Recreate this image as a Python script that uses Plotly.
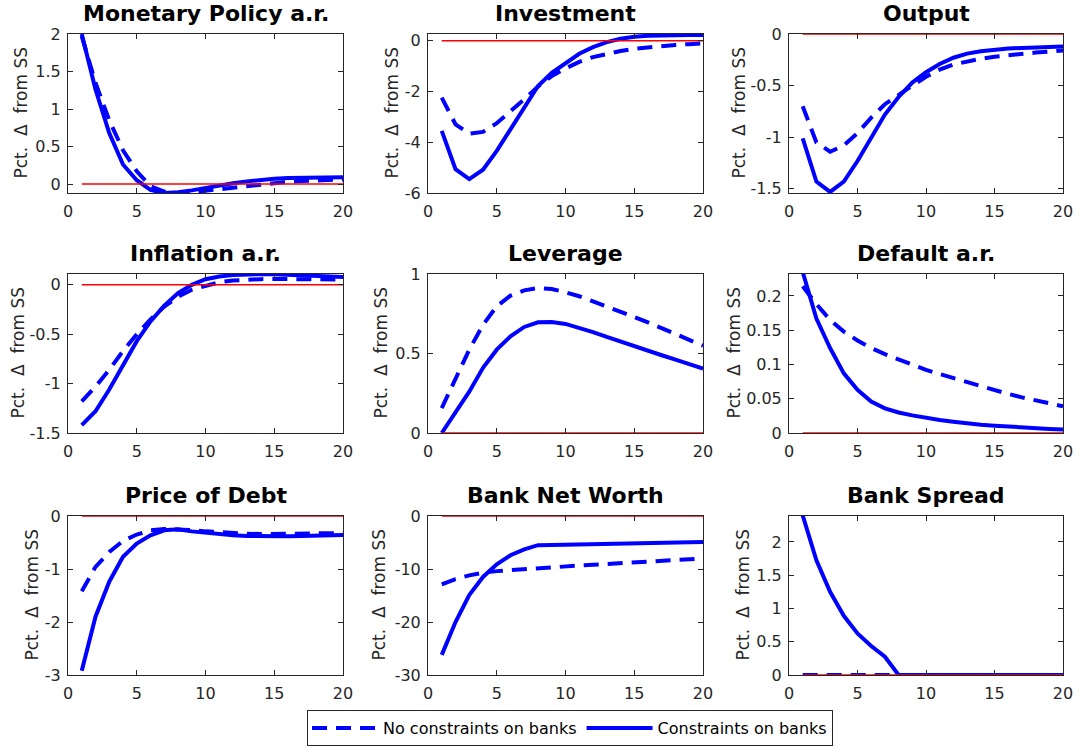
import plotly.graph_objects as go

# ---------------- data ----------------
periods = [1, 2, 3, 4, 5, 6, 7, 8, 9, 10, 11, 12, 13, 14, 15, 16, 17, 18, 19, 20]
ss_x = [1, 20]
ss_y = [0, 0]

titles = ["Monetary Policy a.r.", "Investment", "Output",
          "Inflation a.r.", "Leverage", "Default a.r.",
          "Price of Debt", "Bank Net Worth", "Bank Spread"]

series_names = ["No constraints on banks", "Constraints on banks"]
ylabel = "Pct.  \u0394  from SS"

mp_nc = [1.97, 1.35, 0.85, 0.45, 0.17, -0.03, -0.10, -0.12, -0.11, -0.09, -0.06, -0.04, -0.02, 0.00, 0.02, 0.03, 0.04, 0.05, 0.055, 0.06]
mp_c = [2.0, 1.26, 0.68, 0.26, 0.05, -0.08, -0.12, -0.11, -0.085, -0.05, -0.02, 0.01, 0.035, 0.055, 0.07, 0.08, 0.085, 0.09, 0.09, 0.09]

inv_nc = [-2.24, -3.29, -3.66, -3.59, -3.25, -2.8, -2.3, -1.8, -1.39, -1.09, -0.83, -0.64, -0.5, -0.4, -0.31, -0.25, -0.2, -0.16, -0.13, -0.1]
inv_c = [-3.55, -5.06, -5.45, -5.08, -4.34, -3.49, -2.57, -1.78, -1.26, -0.87, -0.51, -0.25, -0.05, 0.08, 0.16, 0.2, 0.22, 0.23, 0.23, 0.23]

out_nc = [-0.70, -1.05, -1.14, -1.08, -0.96, -0.81, -0.68, -0.585, -0.5, -0.415, -0.345, -0.295, -0.265, -0.24, -0.22, -0.205, -0.19, -0.18, -0.17, -0.16]
out_c = [-1.01, -1.43, -1.53, -1.43, -1.23, -1.0, -0.78, -0.61, -0.47, -0.37, -0.29, -0.23, -0.19, -0.167, -0.15, -0.14, -0.135, -0.13, -0.125, -0.12]

infl_nc = [-1.18, -1.03, -0.86, -0.67, -0.5, -0.35, -0.22, -0.12, -0.05, -0.007, 0.027, 0.044, 0.054, 0.058, 0.06, 0.06, 0.06, 0.058, 0.056, 0.054]
infl_c = [-1.42, -1.28, -1.06, -0.81, -0.57, -0.37, -0.21, -0.084, 0.0, 0.057, 0.084, 0.1, 0.108, 0.11, 0.107, 0.1, 0.095, 0.09, 0.085, 0.08]

lev_nc = [0.157, 0.335, 0.524, 0.68, 0.797, 0.864, 0.897, 0.912, 0.906, 0.885, 0.86, 0.828, 0.797, 0.761, 0.73, 0.696, 0.66, 0.623, 0.587, 0.549]
lev_c = [0.0, 0.126, 0.26, 0.41, 0.524, 0.608, 0.667, 0.696, 0.698, 0.686, 0.662, 0.635, 0.604, 0.574, 0.545, 0.517, 0.489, 0.461, 0.433, 0.405]

def_nc = [0.214, 0.188, 0.165, 0.148, 0.135, 0.124, 0.115, 0.107, 0.099, 0.092, 0.086, 0.08, 0.075, 0.068, 0.062, 0.057, 0.052, 0.048, 0.043, 0.039]
def_c = [0.235, 0.167, 0.124, 0.087, 0.063, 0.046, 0.036, 0.030, 0.0257, 0.022, 0.019, 0.0165, 0.014, 0.012, 0.0107, 0.0092, 0.0078, 0.0068, 0.0058, 0.005]

pod_nc = [-1.42, -0.96, -0.68, -0.47, -0.35, -0.27, -0.245, -0.245, -0.264, -0.29, -0.31, -0.32, -0.333, -0.34, -0.34, -0.34, -0.335, -0.33, -0.325, -0.32]
pod_c = [-2.92, -1.9, -1.24, -0.77, -0.52, -0.364, -0.27, -0.25, -0.29, -0.32, -0.345, -0.364, -0.377, -0.383, -0.383, -0.383, -0.377, -0.37, -0.364, -0.358]

bnw_nc = [-12.9, -11.9, -11.2, -10.7, -10.4, -10.2, -10.0, -9.8, -9.65, -9.5, -9.35, -9.2, -9.05, -8.9, -8.75, -8.6, -8.45, -8.3, -8.15, -8.0]
bnw_c = [-26.2, -20.0, -14.9, -11.5, -9.1, -7.4, -6.3, -5.5, -5.45, -5.4, -5.35, -5.3, -5.25, -5.2, -5.15, -5.1, -5.05, -5.0, -4.95, -4.9]

spr_nc = [0, 0, 0, 0, 0, 0, 0, 0, 0, 0, 0, 0, 0, 0, 0, 0, 0, 0, 0, 0]
spr_c = [2.4, 1.725, 1.25, 0.89, 0.625, 0.435, 0.275, 0.0, 0, 0, 0, 0, 0, 0, 0, 0, 0, 0, 0, 0]

x_ticks = [0, 5, 10, 15, 20]
y_ranges = [[-0.12, 2.0], [-6, 0.27], [-1.54, 0],
            [-1.5, 0.11], [0, 1], [0, 0.232],
            [-3, 0], [-30, 0], [0, 2.39]]
y_tickvals = [[0, 0.5, 1, 1.5, 2], [-6, -4, -2, 0], [-1.5, -1, -0.5, 0],
              [-1.5, -1, -0.5, 0], [0, 0.5, 1], [0, 0.05, 0.1, 0.15, 0.2],
              [-3, -2, -1, 0], [-30, -20, -10, 0], [0, 0.5, 1, 1.5, 2]]
y_ticktext = [["0", "0.5", "1", "1.5", "2"], ["-6", "-4", "-2", "0"], ["-1.5", "-1", "-0.5", "0"],
              ["-1.5", "-1", "-0.5", "0"], ["0", "0.5", "1"], ["0", "0.05", "0.1", "0.15", "0.2"],
              ["-3", "-2", "-1", "0"], ["-30", "-20", "-10", "0"], ["0", "0.5", "1", "1.5", "2"]]

no_constraints = [mp_nc, inv_nc, out_nc, infl_nc, lev_nc, def_nc, pod_nc, bnw_nc, spr_nc]
constraints = [mp_c, inv_c, out_c, infl_c, lev_c, def_c, pod_c, bnw_c, spr_c]

# ---------------- layout geometry (screen pixels) ----------------
W, H = 1081, 746
col_px = [(68, 343), (428, 703), (789, 1063)]
row_px = [(34, 193), (274, 433), (516, 675)]
ylab_px = [[20, 391, 738], [17, 380, 733], [31, 378, 742]]


def px_x(v):
    return v / W


def px_y(v):
    return 1 - v / H


FONT = "DejaVu Sans"
AX = "#262626"
BLUE = "#0000FF"
RED = "#FF0000"

fig = go.Figure()
annotations = []
layout_axes = {}

for i in range(9):
    r, c = divmod(i, 3)
    n = i + 1
    xa = "x" if n == 1 else f"x{n}"
    ya = "y" if n == 1 else f"y{n}"
    xkey = "xaxis" if n == 1 else f"xaxis{n}"
    ykey = "yaxis" if n == 1 else f"yaxis{n}"
    x0, x1 = col_px[c]
    y0, y1 = row_px[r]
    dom_x = [px_x(x0), px_x(x1)]
    dom_y = [px_y(y1), px_y(y0)]

    fig.add_trace(go.Scatter(x=periods, y=no_constraints[i], mode="lines",
                             name=series_names[0], legendgroup="nc", showlegend=(i == 0),
                             line=dict(color=BLUE, width=4, dash="15px,9px"),
                             xaxis=xa, yaxis=ya, hoverinfo="skip"))
    fig.add_trace(go.Scatter(x=periods, y=constraints[i], mode="lines",
                             name=series_names[1], legendgroup="c", showlegend=(i == 0),
                             line=dict(color=BLUE, width=4),
                             xaxis=xa, yaxis=ya, hoverinfo="skip"))
    fig.add_trace(go.Scatter(x=ss_x, y=ss_y, mode="lines", showlegend=False,
                             line=dict(color=RED, width=1.5),
                             xaxis=xa, yaxis=ya, hoverinfo="skip"))

    common = dict(showline=True, linecolor=AX, linewidth=1, mirror="ticks",
                  ticks="inside", ticklen=5, tickcolor=AX, tickwidth=1,
                  showgrid=False, zeroline=False, automargin=False,
                  tickfont=dict(family=FONT, size=16, color=AX))
    layout_axes[xkey] = dict(domain=dom_x, range=[0, 20], anchor=ya,
                             tickvals=x_ticks, ticklabelstandoff=4, **common)
    layout_axes[ykey] = dict(domain=dom_y, range=y_ranges[i], anchor=xa,
                             tickvals=y_tickvals[i], ticktext=y_ticktext[i],
                             ticklabelstandoff=3, **common)

    annotations.append(dict(text="<b>" + titles[i] + "</b>", xref="paper", yref="paper",
                            x=px_x((x0 + x1) / 2), y=px_y(y0 - 6),
                            xanchor="center", yanchor="bottom", showarrow=False,
                            font=dict(family=FONT, size=22, color="black")))
    annotations.append(dict(text=ylabel, xref="paper", yref="paper",
                            x=px_x(ylab_px[r][c]), y=px_y((y0 + y1) / 2),
                            xanchor="center", yanchor="middle", textangle=-90,
                            showarrow=False,
                            font=dict(family=FONT, size=17, color=AX)))

fig.update_layout(
    template="none",
    width=W, height=H,
    margin=dict(l=0, r=0, t=0, b=0, autoexpand=False),
    paper_bgcolor="white", plot_bgcolor="white",
    showlegend=True,
    legend=dict(orientation="h", x=px_x(570), xanchor="center",
                y=px_y(728), yanchor="middle",
                bordercolor=AX, borderwidth=1, bgcolor="white",
                font=dict(family=FONT, size=16, color="black"),
                itemwidth=66),
    annotations=annotations,
    **layout_axes,
)

fig.write_html("out.html", config={"displayModeBar": False},
               post_script="document.body.style.margin='0';")
